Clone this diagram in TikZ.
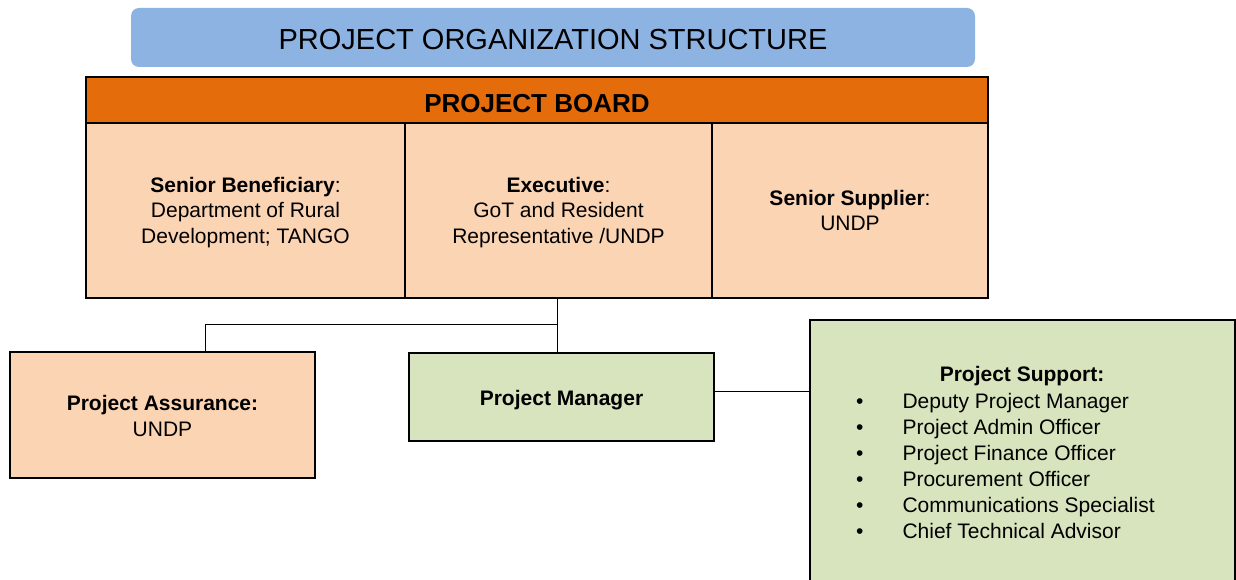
\documentclass[tikz,border=0pt]{standalone}
\usepackage{fontspec}
\setmainfont{Liberation Sans}
\definecolor{titleblue}{RGB}{141,179,226}
\definecolor{boardorange}{RGB}{228,108,10}
\definecolor{rolepeach}{RGB}{251,212,180}
\definecolor{teamgreen}{RGB}{215,228,189}
% invisible strut that pushes the first line of a node down a little
\newcommand{\pushdown}[1]{\rule{0pt}{#1}}

\begin{document}
\begin{tikzpicture}
[x=1pt, y=-1pt,
titlenode/.style={rectangle, rounded corners=8pt, fill=titleblue, minimum width=844pt, minimum height=59pt, font=\fontsize{29}{34}\selectfont},
boardnode/.style={rectangle, draw=black, line width=1.4pt, fill=boardorange, minimum width=902pt, minimum height=46pt, font=\fontsize{26}{30}\selectfont\bfseries},
rolenode/.style={rectangle, draw=black, line width=1.4pt, fill=rolepeach, align=center, font=\fontsize{21}{25.5}\selectfont},
teamnode/.style={rectangle, draw=black, line width=1.4pt, fill=teamgreen, align=center, font=\fontsize{21}{25.5}\selectfont},
connect/.style={draw=black, line width=0.8pt}]
\useasboundingbox (0,0) rectangle (1236,580);
\node[titlenode]	(title) at (553, 37.5) {\pushdown{23.8pt}PROJECT ORGANIZATION STRUCTURE};
\node[boardnode]	(board) at (537, 100) {\pushdown{25.6pt}PROJECT BOARD};
\node[rolenode, minimum width=319pt, minimum height=175pt]	(beneficiary) at (245.5, 210.5) {\pushdown{19.3pt}\textbf{Senior Beneficiary}:\\Department of Rural\\Development; TANGO};
\node[rolenode, minimum width=307pt, minimum height=175pt]	(executive) at (558.5, 210.5) {\pushdown{19pt}\textbf{Executive}:\\GoT and Resident\\Representative /UNDP};
\node[rolenode, minimum width=276pt, minimum height=175pt]	(supplier) at (850, 210.5) {\textbf{Senior Supplier}:\\UNDP};
\node[rolenode, minimum width=305pt, minimum height=126pt]	(assurance) at (162.5, 415) {\pushdown{17pt}\textbf{Project Assurance:}\\UNDP};
\node[teamnode, minimum width=305pt, minimum height=88pt]	(manager) at (561.5, 397) {\pushdown{21.3pt}\textbf{Project Manager}};
\node[teamnode, minimum width=425pt, minimum height=264pt]	(support) at (1022.5, 452) {};
\node[font=\fontsize{21}{25.5}\selectfont\bfseries]	(supporthead) at (1022, 376) {Project Support:};
\node[anchor=west, inner sep=0pt, font=\fontsize{21}{26}\selectfont]	(supportlist) at (856, 468) {\begin{tabular}{@{}l@{\hspace{39pt}}l@{}}
\textbullet & Deputy Project Manager\\
\textbullet & Project Admin Officer\\
\textbullet & Project Finance Officer\\
\textbullet & Procurement Officer\\
\textbullet & Communications Specialist\\
\textbullet & Chief Technical Advisor
\end{tabular}};
\coordinate (split) at (557, 324);
\coordinate (assurejoin) at (205, 324);
\draw[connect] (split |- executive.south) -- (split |- manager.north);
\draw[connect] (split) -- (assurejoin) -- (assurejoin |- assurance.north);
\draw[connect] ([yshift=6pt]manager.east) -- ([yshift=6pt]manager.east -| support.west);
\end{tikzpicture}
\end{document}
